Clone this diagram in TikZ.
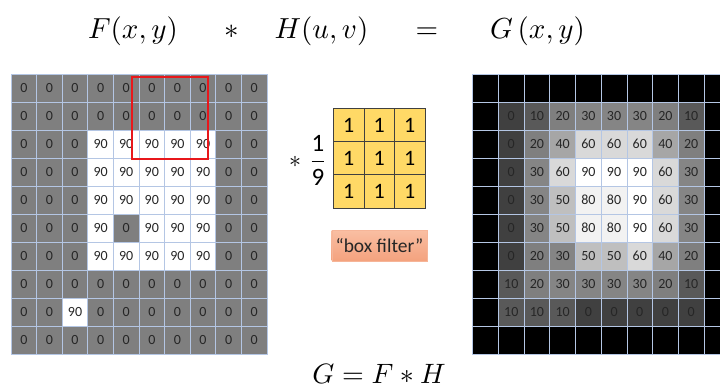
\documentclass[tikz,border=0pt]{standalone}
\usepackage{fontspec}
\DeclareFontShape{OML}{cmm}{m}{it}{<->cmmi10}{}
\DeclareFontShape{OMS}{cmsy}{m}{n}{<->cmsy10}{}
\DeclareFontShape{OT1}{cmr}{m}{n}{<->cmr10}{}
\DeclareFontShape{OMX}{cmex}{m}{n}{<->cmex10}{}
\newfontfamily\calfont{Carlito}
\definecolor{lgray}{HTML}{7F7F7F}
\definecolor{gridline}{HTML}{B4C6E4}
\definecolor{txt}{HTML}{262626}
\definecolor{g0}{HTML}{404040}
\definecolor{g10}{HTML}{595959}
\definecolor{g20}{HTML}{7F7F7F}
\definecolor{g30}{HTML}{858585}
\definecolor{g40}{HTML}{A6A6A6}
\definecolor{g50}{HTML}{BFBFBF}
\definecolor{g60}{HTML}{D9D9D9}
\definecolor{g80}{HTML}{F2F2F2}
\definecolor{g90}{HTML}{FFFFFF}
\definecolor{kfill}{HTML}{FFD966}
\definecolor{bftop}{HTML}{F9BEA2}
\definecolor{bfbot}{HTML}{F4A27E}
\definecolor{redwin}{HTML}{E8171B}
\tikzset{
  cellstyle/.style={draw=gridline, line width=0.7pt, minimum width=25.6pt, minimum height=28pt,
    inner sep=0pt, text=txt, font=\calfont\fontsize{14}{15}\selectfont},
  kcell/.style={draw=g0, line width=0.8pt, fill=kfill, minimum width=30.6pt, minimum height=33.3pt,
    inner sep=0pt, text=black, font=\calfont\fontsize{22}{24}\selectfont},
  tfont/.style={font=\fontsize{29}{32}\selectfont, inner sep=0pt, anchor=base},
}
\begin{document}
\begin{tikzpicture}[x=1pt,y=-1pt]
\useasboundingbox (0,0) rectangle (720,387);
\fill[white] (0,0) rectangle (720,387);
% title
\node[tfont] (tF) at (133,39) {$F(x,y)$};
\node[tfont] (tst) at (231.7,39) {$\ast$};
\node[tfont] (tH) at (321.5,39) {$H(u,v)$};
\node[tfont] (teq) at (427,39) {$=$};
\node[tfont] (tG) at (537.5,39) {$G\,(x,y)$};
% left grid
\foreach \row [count=\r from 0] in {
 {0,0,0,0,0,0,0,0,0,0},
 {0,0,0,0,0,0,0,0,0,0},
 {0,0,0,90,90,90,90,90,0,0},
 {0,0,0,90,90,90,90,90,0,0},
 {0,0,0,90,90,90,90,90,0,0},
 {0,0,0,90,0,90,90,90,0,0},
 {0,0,0,90,90,90,90,90,0,0},
 {0,0,0,0,0,0,0,0,0,0},
 {0,0,90,0,0,0,0,0,0,0},
 {0,0,0,0,0,0,0,0,0,0}}{
  \foreach \v [count=\c from 0] in \row {
    \ifnum\v=90 \def\fc{white}\else\def\fc{lgray}\fi
    \node[cellstyle, fill=\fc] (L-\r-\c) at ({23.8+\c*25.6},{88+\r*28}) {\v};
  }
}
\node[draw=redwin, line width=2.2pt, minimum width=76pt, minimum height=82pt, inner sep=0pt, anchor=north west] (win) at (131,76) {};
% right grid
\foreach \row [count=\r from 0] in {
 {-1,-1,-1,-1,-1,-1,-1,-1,-1,-1},
 {-1,0,10,20,30,30,30,20,10,-1},
 {-1,0,20,40,60,60,60,40,20,-1},
 {-1,0,30,60,90,90,90,60,30,-1},
 {-1,0,30,50,80,80,90,60,30,-1},
 {-1,0,30,50,80,80,90,60,30,-1},
 {-1,0,20,30,50,50,60,40,20,-1},
 {-1,10,20,30,30,30,30,20,10,-1},
 {-1,10,10,10,0,0,0,0,0,-1},
 {-1,-1,-1,-1,-1,-1,-1,-1,-1,-1}}{
  \foreach \v [count=\c from 0] in \row {
    \ifnum\v<0 \def\fc{black}\def\tx{}\else\def\fc{g\v}\def\tx{\v}\fi
    \node[cellstyle, minimum width=25.7pt, fill=\fc] (R-\r-\c) at ({485.55+\c*25.7},{88+\r*28}) {\tx};
  }
}
% kernel
\foreach \r in {0,1,2}{
  \foreach \c in {0,1,2}{
    \node[kcell] (K-\r-\c) at ({348.6+\c*30.6},{124.95+\r*33.3}) {1};
  }
}
\node[font=\fontsize{24}{26}\selectfont, inner sep=0pt] (kst) at (295,162) {$\ast$};
\node[font=\calfont\fontsize{25}{27}\selectfont, inner sep=0pt] (frac) at (318,160)
  {$\displaystyle\frac{\mbox{1}}{\mbox{9}}$};
\node[draw=bfbot!80, top color=bftop, bottom color=bfbot, minimum width=95.6pt, minimum height=30.3pt,
  inner sep=0pt, text=txt, font=\calfont\fontsize{19.5}{21}\selectfont] (bf) at (379.5,245.8) {“box filter”};
% bottom formula
\node[font=\fontsize{28}{30}\selectfont, inner sep=0pt, anchor=base] (eq) at (379,383) {$G = F \ast H$};
\end{tikzpicture}
\end{document}
